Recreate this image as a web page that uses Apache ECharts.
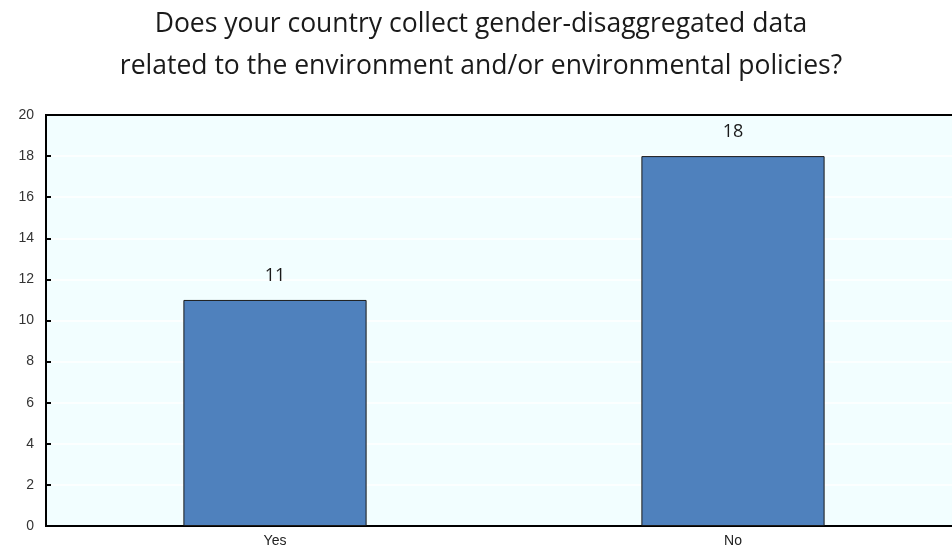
<!DOCTYPE html>
<html>
<head>
<meta charset="utf-8">
<script src="https://cdn.jsdelivr.net/npm/echarts@6/dist/echarts.min.js"></script>
<style>
  html, body { margin: 0; padding: 0; background: #fff; overflow: hidden; }
  #chart { width: 962px; height: 549px; }
</style>
</head>
<body>
<div id="chart"></div>
<script>
const categories = ["Yes", "No"];
const counts = [11, 18];

const chart = echarts.init(document.getElementById("chart"));
chart.setOption({
  animation: false,
  title: {
    text: "Does your country collect gender-disaggregated data\nrelated to the environment and/or environmental policies?",
    left: 476,
    textAlign: "center",
    top: -2,
    textStyle: {
      fontFamily: "Open Sans",
      fontSize: 26.5,
      fontWeight: "normal",
      color: "#1a1a1a",
      lineHeight: 42
    }
  },
  grid: {
    left: 46,
    right: 0,
    top: 115,
    bottom: 23,
    show: true,
    backgroundColor: "#F2FEFF",
    borderColor: "#000",
    borderWidth: 2
  },
  xAxis: [{
    type: "category",
    data: categories,
    axisLine: { lineStyle: { color: "#000", width: 2 } },
    axisTick: { inside: true, length: 5, lineStyle: { color: "#000", width: 2 } },
    axisLabel: { fontFamily: "Liberation Sans", fontSize: 14, color: "#222", margin: 8 }
  }, {
    // top frame line
    type: "category",
    data: categories,
    position: "top",
    axisLine: { lineStyle: { color: "#000", width: 2 } },
    axisTick: { show: false },
    axisLabel: { show: false }
  }],
  yAxis: {
    type: "value",
    min: 0,
    max: 20,
    interval: 2,
    axisLine: { show: true, lineStyle: { color: "#000", width: 2 } },
    axisTick: { show: true, inside: true, length: 5, lineStyle: { color: "#000", width: 2 } },
    axisLabel: { fontFamily: "Liberation Sans", fontSize: 14, color: "#333", margin: 12 },
    splitLine: { lineStyle: { color: "#ffffff", width: 1.5 } }
  },
  series: [{
    type: "bar",
    data: counts,
    barWidth: "40%",
    itemStyle: { color: "#4F81BD", borderColor: "#1a1a1a", borderWidth: 1 },
    label: {
      show: true,
      position: "top",
      distance: 15,
      fontFamily: "Open Sans",
      fontSize: 18,
      color: "#1a1a1a"
    }
  }]
});
</script>
</body>
</html>
